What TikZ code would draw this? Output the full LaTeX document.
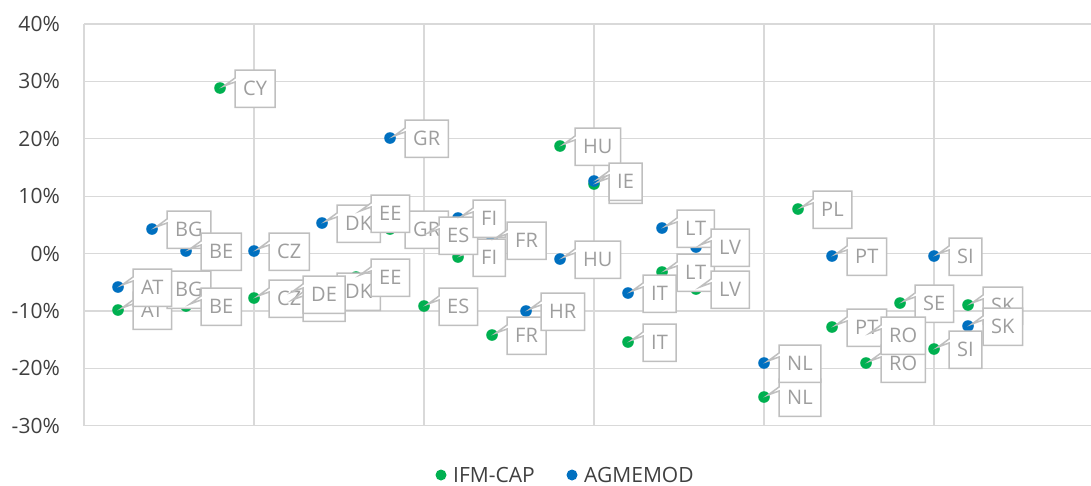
\documentclass[tikz,border=0pt]{standalone}
\usepackage{fontspec}
\setmainfont{Open Sans}
\usetikzlibrary{calc}
\definecolor{gcol}{HTML}{00B050}
\definecolor{bcol}{HTML}{0070C0}
\definecolor{gridc}{HTML}{D9D9D9}
\definecolor{lblc}{HTML}{9E9E9E}
\definecolor{boxc}{HTML}{BFBFBF}
\definecolor{axc}{HTML}{404040}
\tikzset{
  gridline/.style={draw=gridc, line width=1.3pt},
  lblbox/.style={draw=none, fill=none, inner xsep=8pt, inner ysep=0pt, minimum height=37pt,
    text height=14.3pt, text depth=0pt, font=\fontsize{20}{24}\selectfont},
  lbltext/.style={lblbox, text=lblc},
  calloutline/.style={draw=boxc, fill=white, line width=1.5pt, line join=miter},
  ticklbl/.style={anchor=east, text=axc, inner sep=0pt, font=\fontsize{21}{25}\selectfont},
  legtext/.style={anchor=west, text=axc, inner sep=0pt, font=\fontsize{21}{25}\selectfont},
  gdot/.style={fill=gcol},
  bdot/.style={fill=bcol},
}
\newcommand{\dotr}{5.8}
\begin{document}
\begin{tikzpicture}[x=1pt,y=-1pt]
\useasboundingbox (0,0) rectangle (1091,485);
% grid
\foreach \k in {0,...,7} \draw[gridline] (84,24+57.4*\k) -- (1091,24+57.4*\k);
\foreach \c in {84,254,424,594,764,934} \draw[gridline] (\c,24) -- (\c,425.8);
% tick labels
\foreach \k/\t in {0/40,1/30,2/20,3/10,4/0,5/-10,6/-20,7/-30}
  \node[ticklbl] (tick\k) at (60,24+57.4*\k) {\t\%};
% data points
\foreach \n/\x/\y in {AT/118/310, BG/152/289, BE/186/306, CY/220/88, CZ/254/298, DE/288/302,
  DK/322/291, EE/356/277, GR/390/229, ES/424/306, FI/458/257, FR/492/335, HU/560/146,
  IE/594/184, IT/628/342, LT/662/272, LV/696/289, NL/764/397, PL/798/209, PT/832/327,
  RO/866/363, SE/900/303, SI/934/349, SK/968/305}
  {\coordinate (g-\n) at (\x,\y);}
\foreach \n/\x/\y in {AT/118/287, BG/152/229, BE/186/251, CZ/254/251, DE/288/294, DK/322/223,
  EE/356/213, GR/390/138, ES/424/235, FI/458/218, FR/492/240, HR/526/311, HU/560/259,
  IE/594/181, IT/628/293, LT/662/228, LV/696/247, NL/764/363, PT/832/256, RO/866/335,
  SI/934/256, SK/968/326}
  {\coordinate (b-\n) at (\x,\y);}
% markers
\foreach \n in {AT,BG,BE,CY,CZ,DE,DK,EE,GR,ES,FI,FR,HU,IE,IT,LT,LV,NL,PL,PT,RO,SE,SI,SK}
  \fill[gdot] (g-\n) circle (\dotr);
\foreach \n in {AT,BG,BE,CZ,DE,DK,EE,GR,ES,FI,FR,HR,HU,IE,IT,LT,LV,NL,PT,RO,SI,SK}
  \fill[bdot] (b-\n) circle (\dotr);
% labels (callouts)
\foreach \s/\n in {g/AT,g/BG,g/BE,g/CY,g/CZ,g/DE,g/DK,g/EE,g/GR,g/ES,g/FI,g/FR,g/HU,g/IE,g/IT,g/LT,g/LV,g/NL,g/PL,g/PT,g/RO,g/SE,g/SI,g/SK,
  b/AT,b/BG,b/BE,b/CZ,b/DE,b/DK,b/EE,b/GR,b/ES,b/FI,b/FR,b/HR,b/HU,b/IE,b/IT,b/LT,b/LV,b/NL,b/PT,b/RO,b/SI,b/SK}
{
  \node[lblbox, anchor=north west] (l\s-\n) at ($(\s-\n)+(15,-18)$) {\phantom{\n}};
  \path[calloutline] (l\s-\n.north west) -- (l\s-\n.north east) -- (l\s-\n.south east)
    -- (l\s-\n.south west) -- ($(l\s-\n.north west)+(0,12)$) -- ($(\s-\n)+(4,-2)$)
    -- ($(l\s-\n.north west)+(0,8)$) -- cycle;
  \node[lbltext] (t\s-\n) at (l\s-\n.center) {\n};
}
% legend
\fill[gdot] (441,475) circle (5.5) coordinate (leg1);
\node[legtext] (legt1) at (453,475) {IFM-CAP};
\fill[bdot] (572,475) circle (5.5) coordinate (leg2);
\node[legtext] (legt2) at (584,475) {AGMEMOD};
\end{tikzpicture}
\end{document}
